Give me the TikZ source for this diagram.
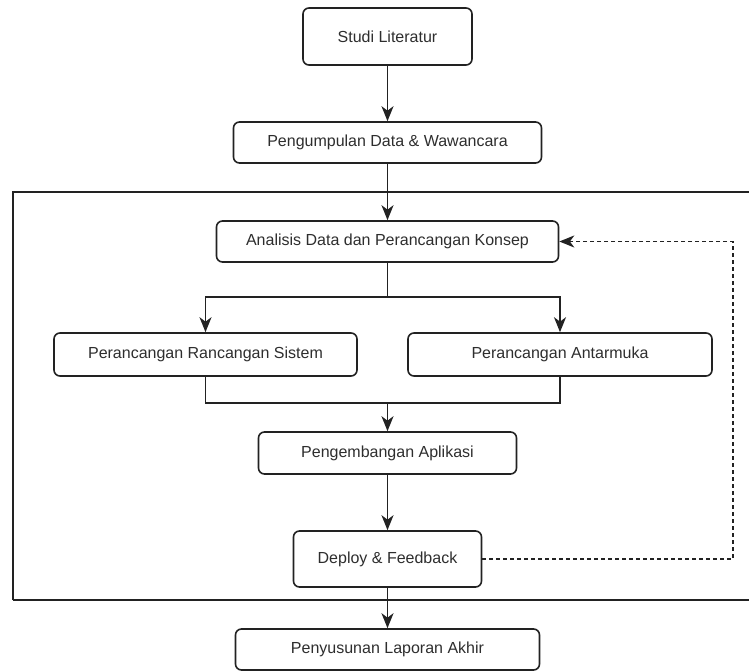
\documentclass[tikz,border=0pt]{standalone}
\usepackage{fontspec}
\setmainfont{Liberation Sans}
\usetikzlibrary{arrows.meta}
\definecolor{ln}{HTML}{222222}
\definecolor{tx}{HTML}{2E2E2E}
\begin{document}
\begin{tikzpicture}[x=1pt,y=-1pt,
  box/.style={draw=ln, line width=1.6pt, rounded corners=6pt, inner sep=0pt,
    align=center, text=tx, font=\fontsize{16}{19}\selectfont},
  conn/.style={draw=ln, line width=1.6pt},
  arr/.style={conn, -{Stealth[length=15pt,width=12pt,inset=4.5pt]}},
  fb/.style={draw=ln, line width=1.6pt, dash pattern=on 4pt off 3pt, -{Stealth[length=15pt,width=12pt,inset=4.5pt]}}
]
\useasboundingbox (0,0) rectangle (749,671);
\fill[white] (0,0) rectangle (749,671);

% outer frame
\draw[conn] (13,600) -- (13,192) -- (760,192);
\draw[conn] (13,600) -- (760,600);

\node[box, minimum width=169pt, minimum height=57pt] (S) at (387.5,36.5) {Studi Literatur};
\node[box, minimum width=308pt, minimum height=41pt] (P) at (387.5,142.5) {Pengumpulan Data \& Wawancara};
\node[box, minimum width=342pt, minimum height=41pt] (A) at (387.5,241.5) {Analisis Data dan Perancangan Konsep};
\node[box, minimum width=303pt, minimum height=43pt] (RS) at (205.5,354.5) {Perancangan Rancangan Sistem};
\node[box, minimum width=304pt, minimum height=43pt] (AM) at (560,354.5) {Perancangan Antarmuka};
\node[box, minimum width=258pt, minimum height=42pt] (Dev) at (387.5,453) {Pengembangan Aplikasi};
\node[box, minimum width=188pt, minimum height=56pt] (D) at (387.5,559) {Deploy \& Feedback};
\node[box, minimum width=304pt, minimum height=41pt] (L) at (387.5,649.5) {Penyusunan Laporan Akhir};

\coordinate (split) at (387.5,297);
\coordinate (join) at (387.5,403);
\coordinate (fbx) at (733,559);

\draw[arr] (S) -- (P);
\draw[arr] (P) -- (A);
\draw[conn] (A.south) -- (split);
\draw[arr] (split) -| (RS.north);
\draw[arr] (split) -| (AM.north);
\draw[conn] (RS.south) |- (join);
\draw[conn] (AM.south) |- (join);
\draw[arr] (join) -- (Dev.north);
\draw[arr] (Dev) -- (D);
\draw[arr] (D) -- (L);
\draw[fb] (D.east) -- (fbx) |- (A.east);
\end{tikzpicture}
\end{document}
